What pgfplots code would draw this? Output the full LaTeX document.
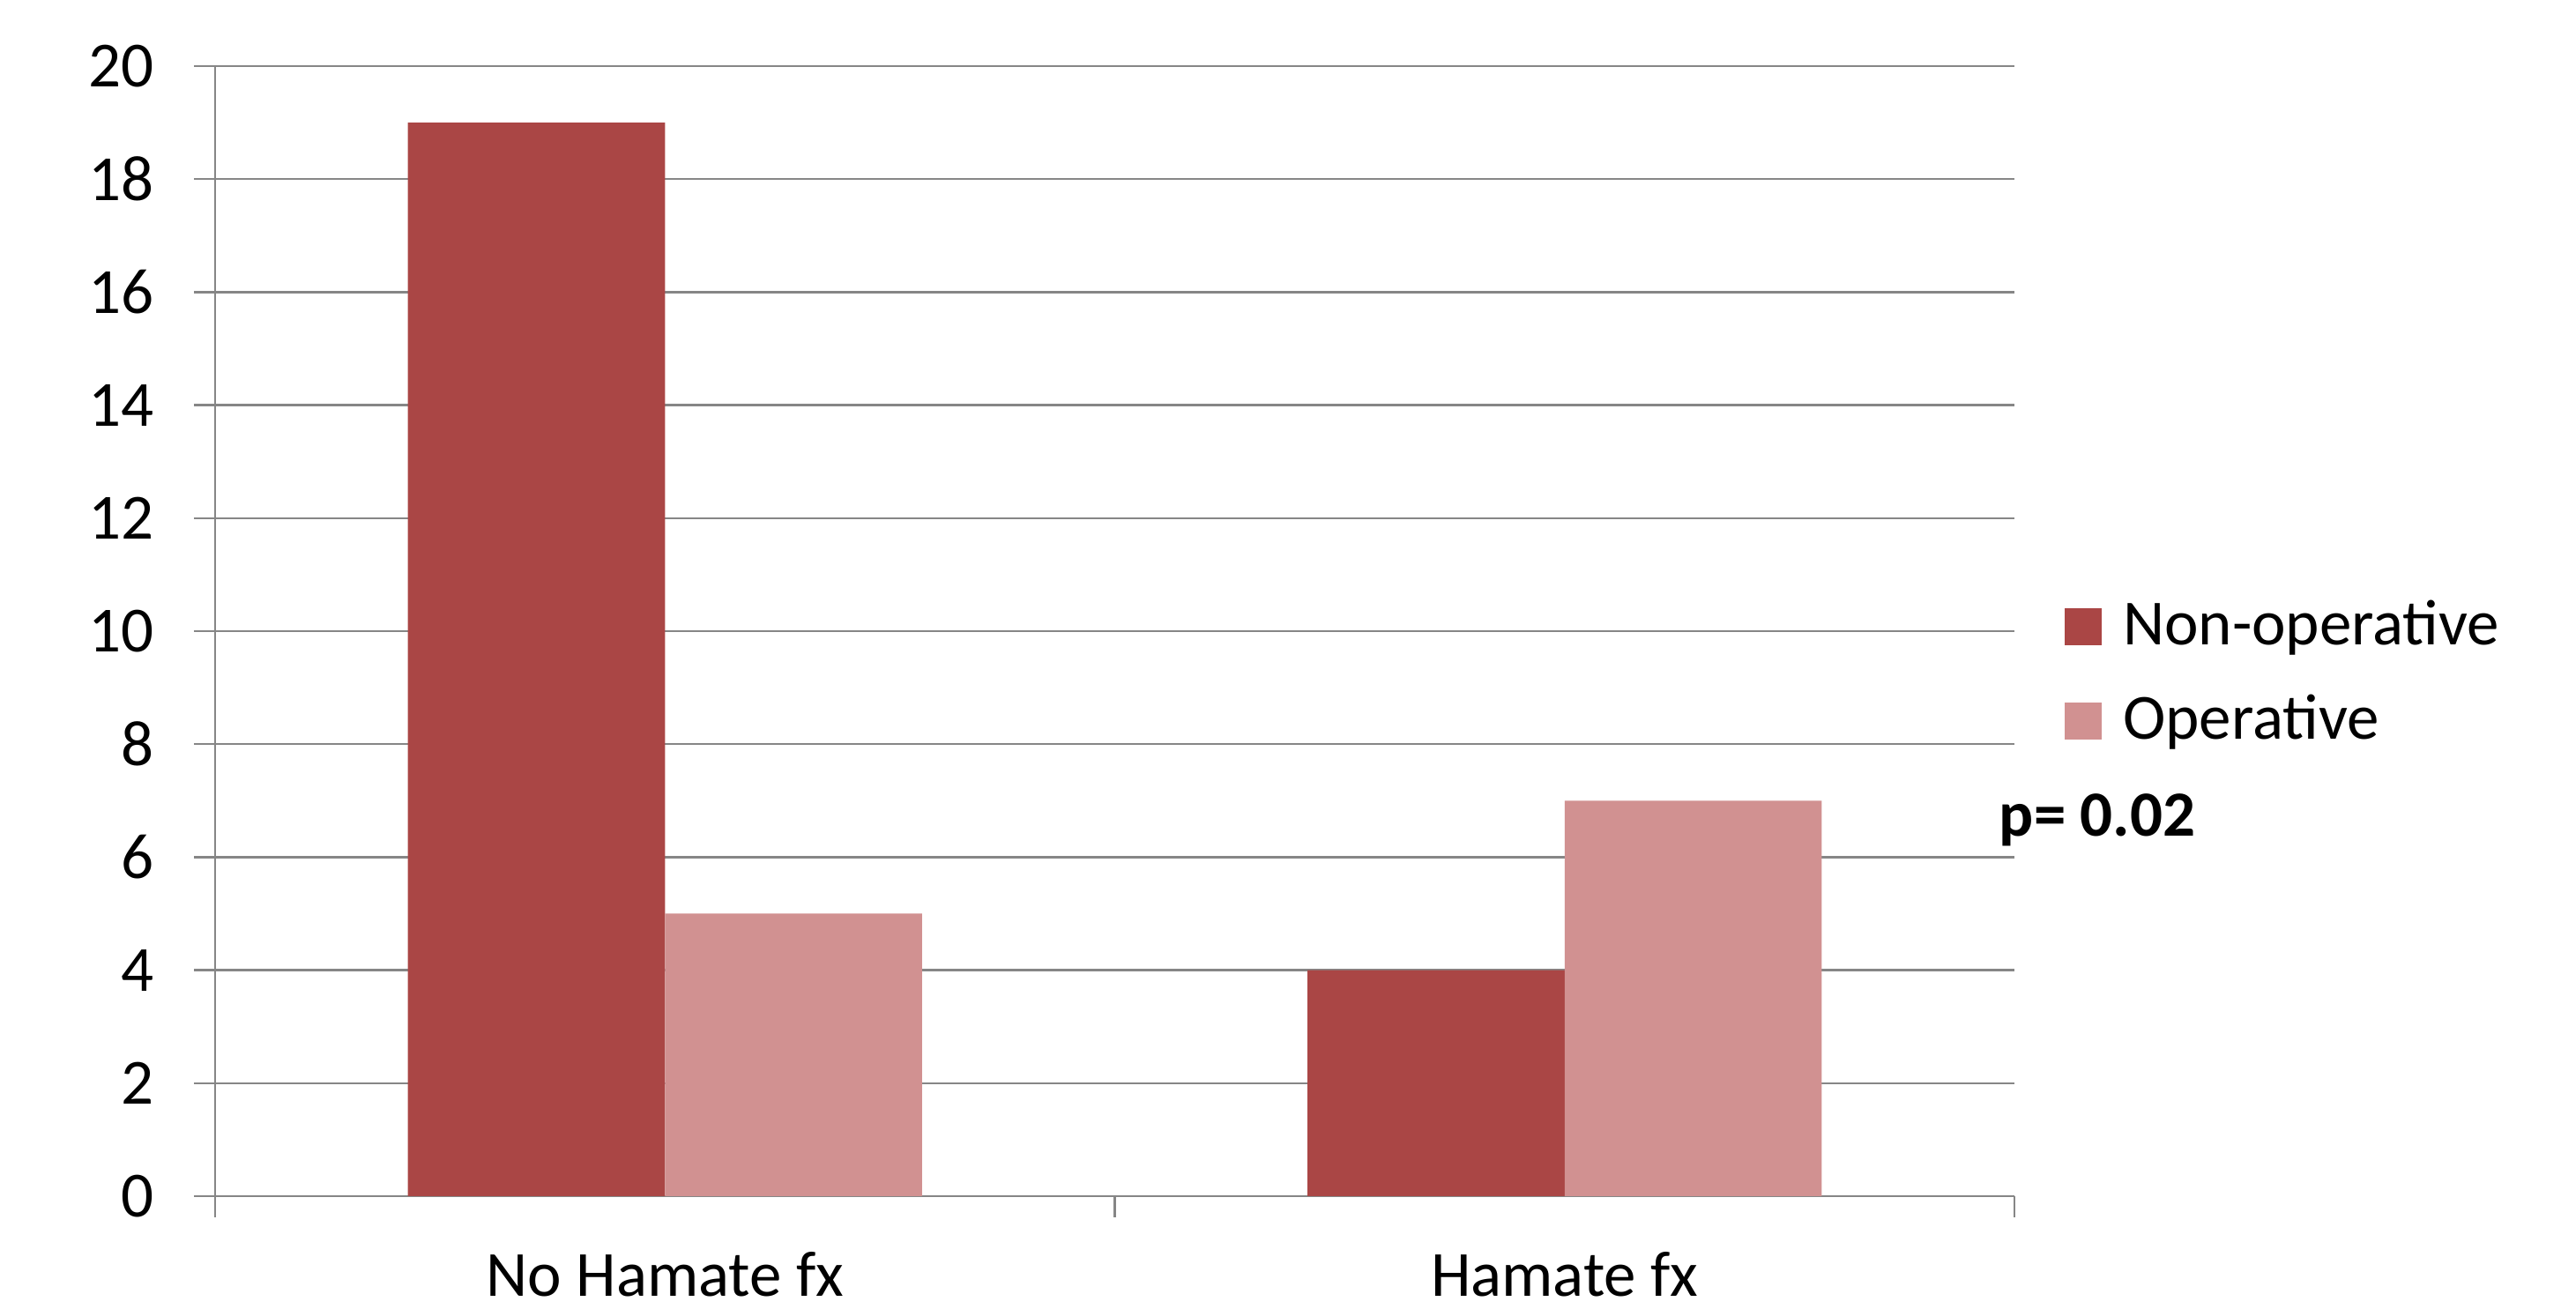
\documentclass[border=0pt]{standalone}
\usepackage{pgfplots}
\pgfplotsset{compat=1.18}
\usepackage{fontspec}
\setmainfont{Carlito}
\definecolor{nonop}{RGB}{170,70,69}
\definecolor{oper}{RGB}{209,145,145}
\definecolor{gridgray}{RGB}{134,134,134}
\newcommand\chartfont{\fontsize{18.25}{22}\selectfont}

\begin{document}
\begin{tikzpicture}
\useasboundingbox (0,0) rectangle (730.5pt,371.25pt);
\begin{axis}[
  at={(61pt,32pt)}, anchor=south west,
  scale only axis, width=510.25pt, height=320.5pt,
  xmin=-0.5, xmax=1.5, ymin=0, ymax=20,
  axis x line=bottom, axis y line=left,
  x axis line style={-}, y axis line style={-},
  axis line style={gridgray, line width=0.6pt},
  ytick={0,2,...,20},
  xtick={-0.5,0.5,1.5}, xticklabels={,,},
  extra x ticks={0,1}, extra x tick labels={No Hamate fx, Hamate fx},
  extra x tick style={major tick length=0pt, grid=none},
  tick align=outside, major tick length=6pt,
  tick style={gridgray, line width=0.6pt},
  ymajorgrids, grid style={gridgray, line width=0.6pt},
  /pgf/number format/assume math mode=true,
  tick label style={font=\chartfont},
  yticklabel style={anchor=east, inner sep=0pt, xshift=-11.2pt},
  xticklabel style={anchor=base, inner sep=0pt, text depth=0pt, yshift=-28.5pt},
  ybar, bar width=72.9pt,
  clip=false,
  legend cell align=left,
  legend style={at={(1.028,0.525)}, anchor=north west, draw=none, fill=none,
    inner sep=0pt, outer sep=0pt, row sep=10.75pt, font=\chartfont,
    nodes={inner sep=0pt, text height=12pt, text depth=4pt},
    /tikz/every odd column/.append style={column sep=6pt}},
]
\addplot[fill=nonop, draw=none, bar shift=-36.45pt,
  legend image code/.code={\fill[nonop] (0pt,-4pt) rectangle (10.5pt,6.5pt);}]
  coordinates {(0,19) (1,4)};
\addplot[fill=oper, draw=none, bar shift=36.45pt,
  legend image code/.code={\fill[oper] (0pt,-4pt) rectangle (10.5pt,6.5pt);}]
  coordinates {(0,5) (1,7)};
\legend{Non-operative, Operative}
\node[anchor=base west, inner sep=0pt, font=\chartfont\bfseries]
  at (rel axis cs:0.9912,0.319) {p= 0.02};
\end{axis}
\end{tikzpicture}
\end{document}
